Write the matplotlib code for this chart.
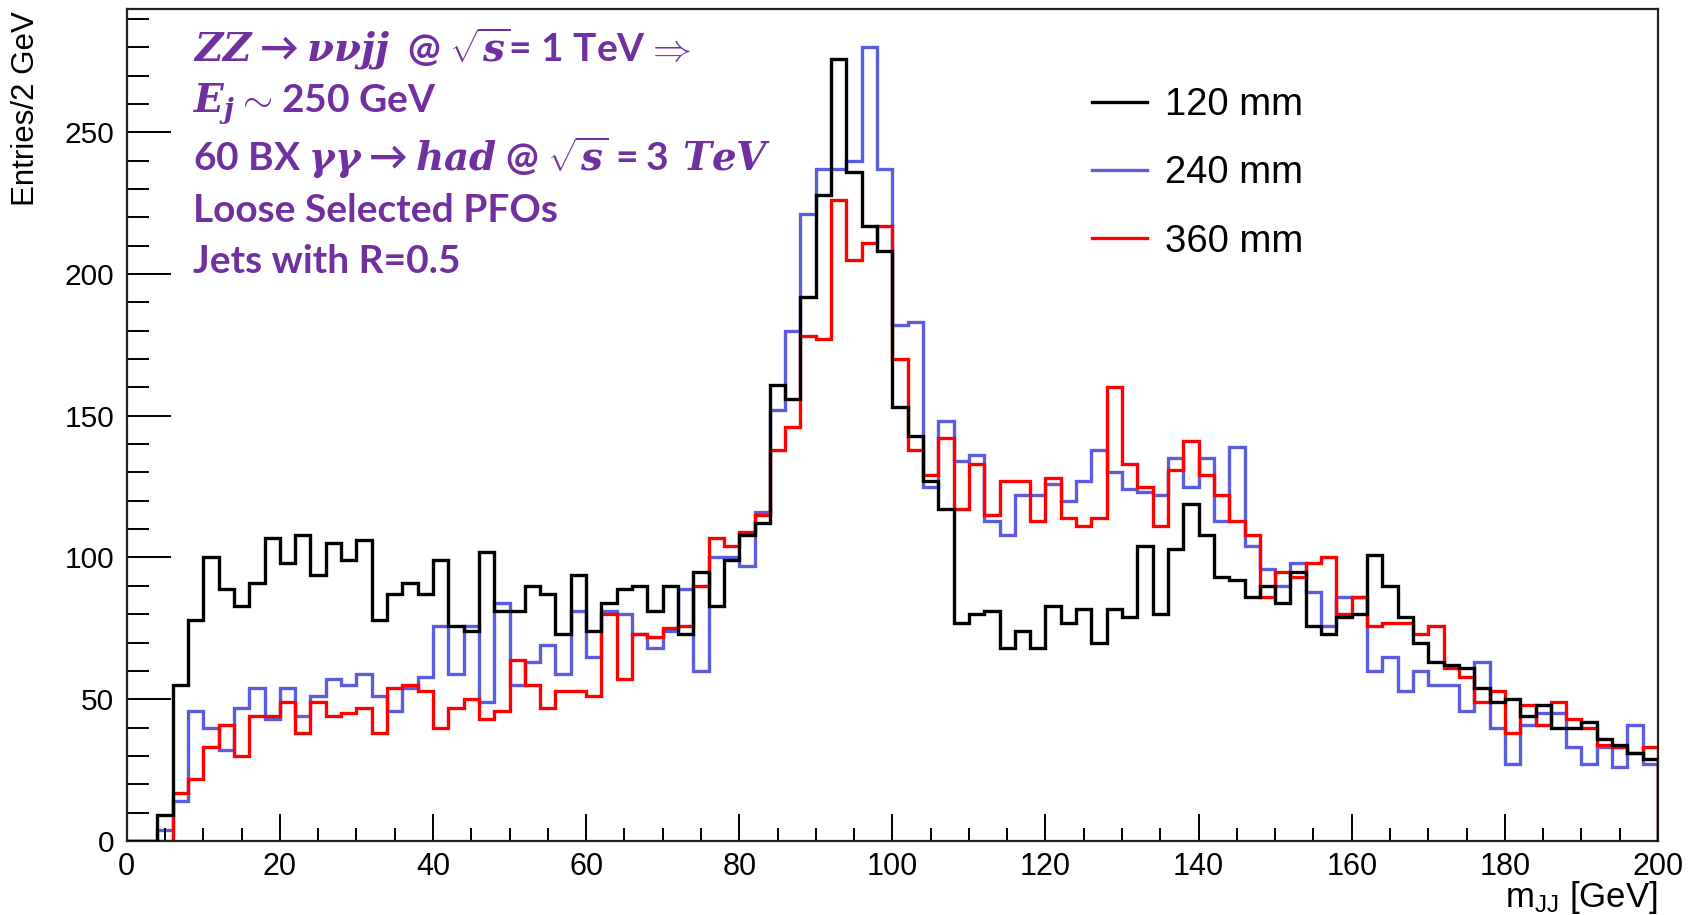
import numpy as np
import matplotlib
matplotlib.use("Agg")
import matplotlib.pyplot as plt
from matplotlib.lines import Line2D
from matplotlib.ticker import MultipleLocator

# ==============================
# DATOS: m_JJ, bins de 2 GeV entre 0 y 200
# ==============================
bin_edges = np.arange(0, 202, 2)

counts_120mm = [
    0, 0, 9, 55, 78, 100, 89, 83, 91, 107,
    98, 108, 94, 105, 99, 106, 78, 87, 91, 87,
    99, 76, 74, 102, 81, 81, 90, 87, 73, 94,
    74, 84, 89, 90, 81, 90, 73, 95, 83, 99,
    108, 112, 161, 156, 192, 228, 276, 236, 217, 208,
    153, 143, 127, 117, 77, 80, 81, 68, 74, 68,
    83, 77, 82, 70, 82, 79, 104, 80, 103, 119,
    108, 93, 92, 86, 90, 84, 95, 76, 73, 79,
    80, 101, 90, 79, 70, 63, 62, 61, 54, 49,
    50, 44, 48, 40, 40, 42, 36, 34, 31, 29,
]

counts_240mm = [
    0, 0, 4, 14, 46, 40, 32, 47, 54, 43,
    54, 44, 51, 57, 55, 59, 51, 46, 54, 58,
    76, 59, 76, 49, 84, 55, 63, 69, 59, 81,
    65, 81, 80, 73, 68, 74, 89, 60, 100, 100,
    97, 116, 152, 180, 221, 237, 237, 240, 280, 237,
    182, 183, 125, 148, 134, 136, 113, 108, 122, 122,
    126, 120, 127, 138, 130, 124, 123, 122, 135, 125,
    135, 113, 139, 104, 96, 90, 98, 88, 76, 86,
    86, 60, 65, 53, 60, 55, 55, 46, 63, 40,
    27, 41, 45, 45, 33, 27, 33, 26, 41, 27,
]

counts_360mm = [
    0, 0, 0, 17, 22, 33, 41, 30, 44, 44,
    49, 38, 49, 44, 45, 47, 38, 54, 55, 53,
    40, 47, 50, 43, 46, 64, 55, 47, 53, 53,
    51, 80, 57, 73, 72, 75, 76, 90, 107, 104,
    109, 115, 138, 146, 178, 177, 226, 205, 211, 217,
    170, 138, 129, 142, 117, 133, 115, 127, 127, 113,
    128, 114, 111, 114, 160, 133, 125, 111, 131, 141,
    129, 122, 113, 108, 86, 95, 93, 98, 100, 80,
    86, 76, 77, 77, 73, 76, 61, 58, 49, 53,
    38, 48, 41, 49, 43, 40, 34, 33, 31, 33,
]

labels = ["120 mm", "240 mm", "360 mm"]
colors = ["black", "#5c5ce0", "#ff0000"]

info_lines = [
    r"$ZZ\rightarrow\nu\nu jj$  @ $\sqrt{s}$= 1 TeV$\Rightarrow$",
    r"$E_j\sim$250 GeV",
    r"60 BX $\gamma\gamma\rightarrow had$ @ $\sqrt{s}=3\ TeV$",
    "Loose Selected PFOs",
    "Jets with R=0.5",
]

# ==============================
# ESTILO
# ==============================
plt.rcParams["font.family"] = ["Liberation Sans", "DejaVu Sans"]
plt.rcParams["mathtext.fontset"] = "custom"
plt.rcParams["mathtext.rm"] = "Lato:bold"
plt.rcParams["mathtext.bf"] = "Lato:bold"
plt.rcParams["mathtext.it"] = "DejaVu Serif:italic:bold"
plt.rcParams["mathtext.sf"] = "Liberation Sans"

fig = plt.figure(figsize=(16.96, 9.15), dpi=100)
ax = fig.add_axes([0.0747, 0.0809, 0.9029, 0.9093])

# azul abajo, rojo encima, negro arriba
series = [counts_120mm, counts_240mm, counts_360mm]
for z, idx in zip([3, 1, 2], range(3)):
    ax.stairs(series[idx], bin_edges, color=colors[idx], linewidth=2.4,
              zorder=z, baseline=0)

ax.set_xlim(0, 200)
ax.set_ylim(0, 293.5)

ax.xaxis.set_major_locator(MultipleLocator(20))
ax.xaxis.set_minor_locator(MultipleLocator(5))
ax.yaxis.set_major_locator(MultipleLocator(50))
ax.yaxis.set_minor_locator(MultipleLocator(10))

ax.tick_params(axis="x", which="major", direction="in", length=19.5, width=1.4,
               labelsize=22, pad=8)
ax.tick_params(axis="x", which="minor", direction="in", length=9.5, width=1.4)
ax.tick_params(axis="y", which="major", direction="in", length=32, width=1.4,
               labelsize=21.5, pad=9)
ax.tick_params(axis="y", which="minor", direction="in", length=16, width=1.4)
ax.tick_params(top=False, right=False, which="both")

for s in ax.spines.values():
    s.set_linewidth(1.6)
    s.set_color("#222222")

ax.set_ylabel("Entries/2 GeV", fontsize=22.5, loc="top")
ax.yaxis.set_label_coords(-0.056, 0.997)
ax.set_xlabel(r"$\mathsf{m_{JJ}}$ [GeV]", fontsize=25, loc="right")
ax.xaxis.set_label_coords(1.0, -0.046)

# ==============================
# LEYENDA
# ==============================
handles = [Line2D([], [], color=c, linewidth=2.4) for c in colors]
ax.legend(handles, labels, loc="upper left", bbox_to_anchor=(0.6439, 0.905),
          bbox_transform=fig.transFigure, frameon=False, fontsize=27.5,
          handlelength=1.45, handletextpad=0.45, labelspacing=0.85,
          borderpad=0, borderaxespad=0)

# ==============================
# TEXTO
# ==============================
text_y = [0.9366, 0.8756, 0.8053, 0.7444, 0.6832]
for line, y in zip(info_lines, text_y):
    ax.text(0.043, y, line, transform=ax.transAxes, color="#7030a0",
            fontsize=28, fontfamily="Lato", fontweight="bold",
            ha="left", va="baseline")

fig.savefig("out.png", dpi=100)
